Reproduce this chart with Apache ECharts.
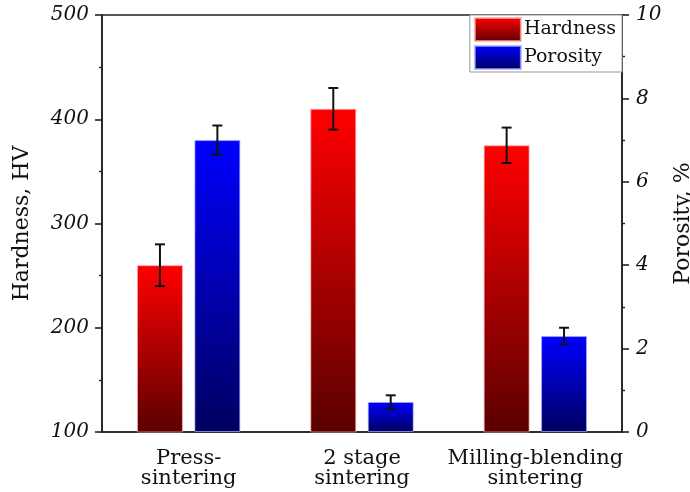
<!DOCTYPE html>
<html>
<head>
<meta charset="UTF-8">
<title>Hardness and porosity</title>
<script src="https://cdn.jsdelivr.net/npm/echarts@6/dist/echarts.min.js"></script>
<style>
  html, body { margin: 0; padding: 0; background: #fff; }
  #chart { width: 690px; height: 492px; }
</style>
</head>
<body>
<div id="chart"></div>
<script>
// data
var categories = ['Press-\nsintering', '2 stage\nsintering', 'Milling-blending\nsintering'];
var hardness = [260, 410, 375];
var hardnessErr = [20, 20, 17];
var porosity = [7.0, 0.72, 2.3];
var porosityErr = [0.35, 0.16, 0.2];
var hardnessTicks = [100, 500, 100];   // min, max, step
var porosityTicks = [0, 10, 2];

var serif = 'DejaVu Serif';
var barW = 0.265;   // share of a category band
var gapW = 0.25;    // gap as share of bar width
var offset = barW * (1 + gapW) / 2;

function grad(top, bottom) {
    return new echarts.graphic.LinearGradient(0, 0, 0, 1, [
        { offset: 0, color: top },
        { offset: 1, color: bottom }
    ]);
}

// error bar drawn next to its own bar
function errorBar(side) {
    return function (params, api) {
        var i = api.value(0);
        var lo = api.coord([i, api.value(1)]);
        var hi = api.coord([i, api.value(2)]);
        var band = api.size([1, 0])[0];
        var cx = lo[0] + side * band * offset;
        var cap = 5;
        var st = { stroke: '#111', lineWidth: 2 };
        return {
            type: 'group',
            children: [
                { type: 'line', shape: { x1: cx, y1: hi[1], x2: cx, y2: lo[1] }, style: st },
                { type: 'line', shape: { x1: cx - cap, y1: hi[1], x2: cx + cap, y2: hi[1] }, style: st },
                { type: 'line', shape: { x1: cx - cap, y1: lo[1], x2: cx + cap, y2: lo[1] }, style: st }
            ]
        };
    };
}

var hardRange = hardness.map(function (v, i) { return [i, v - hardnessErr[i], v + hardnessErr[i]]; });
var poroRange = porosity.map(function (v, i) { return [i, v - porosityErr[i], v + porosityErr[i]]; });

var axisLine = { show: true, lineStyle: { color: '#222', width: 1.6 } };
var tickLabel = { fontFamily: serif, fontStyle: 'italic', fontSize: 20, color: '#111' };

var chart = echarts.init(document.getElementById('chart'));
chart.setOption({
    animation: false,
    grid: {
        left: 102, right: 68, top: 15, bottom: 60,
        outerBoundsMode: 'none',
        show: true, borderColor: '#222', borderWidth: 1.6, backgroundColor: 'transparent'
    },
    legend: {
        data: ['Hardness', 'Porosity'],
        orient: 'vertical',
        right: 68, top: 15,
        icon: 'rect',
        itemWidth: 46, itemHeight: 23, itemGap: 3,
        padding: [2, 6, 2, 4],
        backgroundColor: '#fff',
        borderColor: '#999', borderWidth: 1,
        textStyle: { fontFamily: serif, fontSize: 19, color: '#111', padding: [0, 0, 0, -2] }
    },
    xAxis: {
        type: 'category',
        data: categories,
        axisLine: axisLine,
        axisTick: { show: false },
        axisLabel: { fontFamily: serif, fontSize: 21, color: '#111', lineHeight: 20, margin: 17, interval: 0 }
    },
    yAxis: [{
        type: 'value',
        min: hardnessTicks[0], max: hardnessTicks[1], interval: hardnessTicks[2],
        name: 'Hardness, HV',
        nameLocation: 'middle', nameGap: 69, nameRotate: 90,
        nameTextStyle: { fontFamily: serif, fontSize: 22, color: '#111' },
        axisLine: axisLine,
        axisTick: { show: true, length: 7, lineStyle: { color: '#222', width: 1.6 } },
        minorTick: { show: true, splitNumber: 2, length: 3, lineStyle: { color: '#222', width: 1.4 } },
        splitLine: { show: false },
        axisLabel: Object.assign({ margin: 13 }, tickLabel)
    }, {
        type: 'value',
        position: 'right',
        min: porosityTicks[0], max: porosityTicks[1], interval: porosityTicks[2],
        name: 'Porosity, %',
        nameLocation: 'middle', nameGap: 47, nameRotate: 90,
        nameTextStyle: { fontFamily: serif, fontSize: 22, color: '#111' },
        axisLine: axisLine,
        axisTick: { show: true, length: 7, lineStyle: { color: '#222', width: 1.6 } },
        minorTick: { show: true, splitNumber: 2, length: 3, lineStyle: { color: '#222', width: 1.4 } },
        splitLine: { show: false },
        axisLabel: Object.assign({ margin: 14 }, tickLabel)
    }],
    series: [{
        name: 'Hardness',
        type: 'bar',
        yAxisIndex: 0,
        data: hardness,
        barWidth: (barW * 100) + '%',
        barGap: (gapW * 100) + '%',
        itemStyle: { color: grad('#ff0000', '#5a0000'), borderColor: 'rgba(255,170,170,0.7)', borderWidth: 1 }
    }, {
        name: 'Porosity',
        type: 'bar',
        yAxisIndex: 1,
        data: porosity,
        barWidth: (barW * 100) + '%',
        barGap: (gapW * 100) + '%',
        itemStyle: { color: grad('#0000ff', '#000060'), borderColor: 'rgba(170,170,255,0.7)', borderWidth: 1 }
    }, {
        type: 'custom',
        yAxisIndex: 0,
        renderItem: errorBar(-1),
        encode: { x: 0, y: [1, 2] },
        data: hardRange,
        z: 5
    }, {
        type: 'custom',
        yAxisIndex: 1,
        renderItem: errorBar(1),
        encode: { x: 0, y: [1, 2] },
        data: poroRange,
        z: 5
    }]
});
</script>
</body>
</html>
